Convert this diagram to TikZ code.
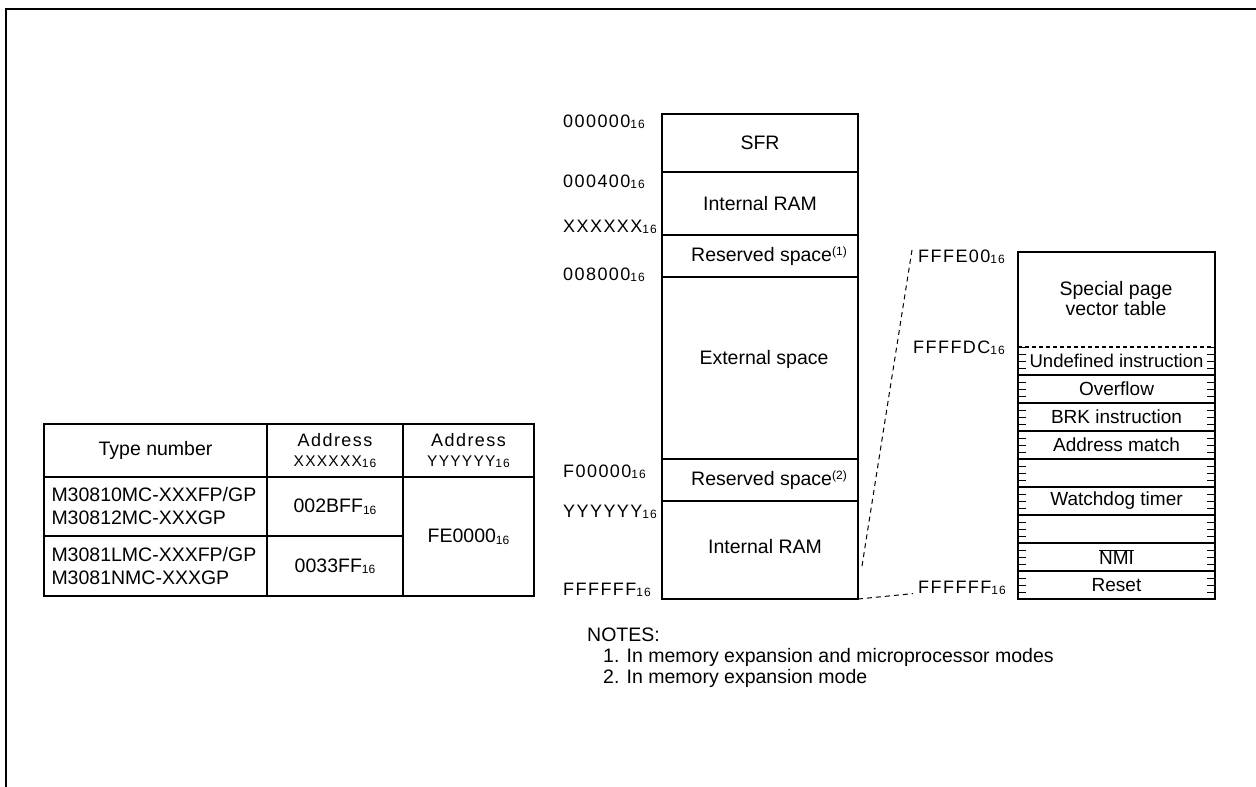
\documentclass[tikz,border=0pt]{standalone}
\usepackage{fontspec}
\setmainfont{Liberation Sans}
\newfontfamily\spacedfont[LetterSpace=8]{Liberation Sans}
\usetikzlibrary{positioning}

\newcommand{\hexsub}[1]{#1\raisebox{-1.5pt}{\fontsize{12}{12}\selectfont 16}}
\newcommand{\notenum}[1]{\raisebox{6pt}{\fontsize{12}{12}\selectfont (#1)}}

\begin{document}
\begin{tikzpicture}
  [x=1pt, y=-1pt, font=\fontsize{19.5}{23}\selectfont,
   region/.style={draw, line width=1.5pt, minimum width=196, inner sep=0pt, outer sep=0pt},
   addr/.style={anchor=base west, inner sep=0pt, font=\spacedfont\fontsize{18}{20}\selectfont},
   cell/.style={draw, line width=1.5pt, anchor=north west, inner sep=0pt, outer sep=0pt, align=center},
   vrow/.style={draw, line width=1.5pt, minimum width=197, minimum height=28, inner sep=0pt, outer sep=0pt, font=\fontsize{19}{22}\selectfont},
   guide/.style={dash pattern=on 5pt off 4pt, line width=1pt}]

\useasboundingbox (0,0) rectangle (1256,787);

% frame
\draw[line width=2.5pt] (6,787) -- (6,9) -- (1256,9);

%%%  table

% header
\node[cell, minimum width=223, minimum height=53] (th1) at (44,424) {Type number};
\node[cell, minimum width=136, minimum height=53, right=0pt of th1] (th2)
  {{\spacedfont\fontsize{18}{20}\selectfont Address}\\[-3pt]{\spacedfont\fontsize{15.5}{16}\selectfont\hexsub{XXXXXX}}};
\node[cell, minimum width=131, minimum height=53, right=0pt of th2] (th3)
  {{\spacedfont\fontsize{18}{20}\selectfont Address}\\[-3pt]{\spacedfont\fontsize{15.5}{16}\selectfont\hexsub{YYYYYY}}};

% type rows
\node[cell, minimum width=223, minimum height=59, text width=208, align=left, below=0pt of th1] (r1c1)
  {M30810MC-XXXFP/GP\\M30812MC-XXXGP};
\node[cell, minimum width=136, minimum height=59, right=0pt of r1c1] (r1c2) {\hexsub{002BFF}};
\node[cell, minimum width=223, minimum height=60, text width=208, align=left, below=0pt of r1c1] (r2c1)
  {M3081LMC-XXXFP/GP\\M3081NMC-XXXGP};
\node[cell, minimum width=136, minimum height=60, right=0pt of r2c1] (r2c2) {\hexsub{0033FF}};
\node[cell, minimum width=131, minimum height=119] (c3) at (r1c2.north east) {\hexsub{FE0000}};

%%%  memory map

% regions
\node[region, minimum height=58, anchor=north west] (sfr) at (662,114) {SFR};
\node[region, minimum height=63, below=0pt of sfr] (iram) {Internal RAM};
\node[region, minimum height=42, below=0pt of iram,
      label={[xshift=9]center:Reserved space\notenum{1}}] (rsv1) {};
\node[region, minimum height=182, below=0pt of rsv1,
      label={[xshift=4, yshift=9]center:External space}] (ext) {};
\node[region, minimum height=42, below=0pt of ext,
      label={[xshift=9]center:Reserved space\notenum{2}}] (rsv2) {};
\node[region, minimum height=98, below=0pt of rsv2,
      label={[xshift=5, yshift=3]center:Internal RAM}] (eram) {};

% addresses
\node[addr] (a0) at (563,127) {\hexsub{000000}};
\node[addr] (a1) at (563,187) {\hexsub{000400}};
\node[addr] (a2) at (563,232) {\hexsub{XXXXXX}};
\node[addr] (a3) at (563,280) {\hexsub{008000}};
\node[addr] (a4) at (563,477) {\hexsub{F00000}};
\node[addr] (a5) at (563,517) {\hexsub{YYYYYY}};
\node[addr] (a6) at (563,595) {\hexsub{FFFFFF}};

%%%  vector table

\node[draw, line width=1.5pt, minimum width=197, minimum height=347, anchor=north west,
      inner sep=0pt, outer sep=0pt] (vt) at (1018,252) {};
\node[align=center, font=\fontsize{19.5}{20}\selectfont] (spv) at (1116,299) {Special page\\vector table};

% vectors
\node[vrow, draw=none, anchor=north west, font=\fontsize{18.5}{22}\selectfont] (undef) at (1018,347) {Undefined instruction};
\node[vrow, below=0pt of undef] (ovf) {Overflow};
\node[vrow, below=0pt of ovf] (brk) {BRK instruction};
\node[vrow, below=0pt of brk] (adm) {Address match};
\node[vrow, below=0pt of adm] (blk1) {};
\node[vrow, below=0pt of blk1] (wdt) {Watchdog timer};
\node[vrow, below=0pt of wdt] (blk2) {};
\node[vrow, below=0pt of blk2] (nmi) {$\overline{\hbox{NMI}}$};
\node[vrow, below=0pt of nmi] (rst) {Reset};

\draw[line width=1.2pt, dash pattern=on 4pt off 3pt] (undef.north west) -- (undef.north east);

% ticks
\draw[line width=8pt, dash pattern=on 1pt off 6pt] ([xshift=4, yshift=0.5]undef.north west) -- ([xshift=4]rst.south west);
\draw[line width=8pt, dash pattern=on 1pt off 6pt] ([xshift=-4, yshift=0.5]undef.north east) -- ([xshift=-4]rst.south east);

% vector addresses
\node[addr] (v0) at (918,262) {\hexsub{FFFE00}};
\node[addr] (v1) at (913,353) {\hexsub{FFFFDC}};
\node[addr] (v2) at (918,593) {\hexsub{FFFFFF}};

% zoom lines
\coordinate (zlo) at (862,566);
\coordinate (zhi) at (912,250);
\draw[guide] (zlo) -- (zhi);
\draw[guide] (eram.south east) -- ([yshift=-6, xshift=-5]v2.west);

%%%  notes
\node[anchor=base west, inner sep=0pt] (nt) at (587,641) {NOTES:};
\node[anchor=base west, inner sep=0pt] (n1) at (603,662) {1. In memory expansion and microprocessor modes};
\node[anchor=base west, inner sep=0pt] (n2) at (603,683) {2. In memory expansion mode};

\end{tikzpicture}
\end{document}
